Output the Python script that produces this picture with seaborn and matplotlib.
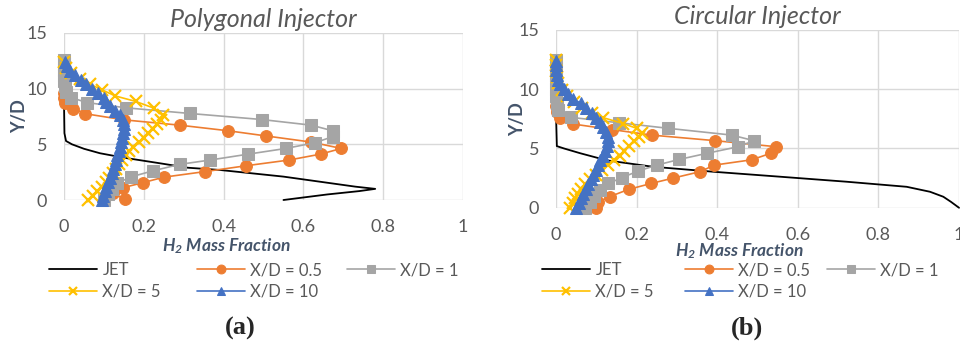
import matplotlib
matplotlib.use('Agg')
import matplotlib.pyplot as plt
import seaborn as sns

# ---- data ----
# (a) polygonal injector
poly_jet_x = [0, 0, 0.001, 0.005, 0.02, 0.05, 0.09, 0.15, 0.24, 0.31, 0.39, 0.47, 0.55, 0.61, 0.67, 0.73, 0.78, 0.74, 0.66, 0.55]
poly_jet_y = [12.5, 8.5, 6.0, 5.3, 5.0, 4.6, 4.2, 3.8, 3.3, 2.9, 2.7, 2.4, 2.1, 1.8, 1.5, 1.2, 1.0, 0.8, 0.5, 0]

poly_05_x = [0.153, 0.122, 0.147, 0.197, 0.25, 0.353, 0.457, 0.564, 0.643, 0.695, 0.62, 0.507, 0.411, 0.29, 0.15, 0.053, 0.023, 0.003, 0.001, 0]
poly_05_y = [0.06, 0.6, 1.1, 1.55, 2.05, 2.55, 3.08, 3.59, 4.12, 4.63, 5.2, 5.75, 6.22, 6.72, 7.2, 7.75, 8.2, 8.7, 9.15, 9.6]

poly_1_x = [0.1, 0.11, 0.12, 0.132, 0.169, 0.224, 0.29, 0.366, 0.462, 0.556, 0.628, 0.673, 0.674, 0.62, 0.495, 0.316, 0.155, 0.058, 0.017, 0.004, 0.002, 0.001, 0, 0, 0, 0]
poly_1_y = [0, 0.5, 1.0, 1.5, 2.09, 2.63, 3.2, 3.59, 4.12, 4.63, 5.14, 5.68, 6.21, 6.72, 7.23, 7.77, 8.28, 8.75, 9.2, 9.7, 10.2, 10.7, 11.2, 11.7, 12.2, 12.6]

poly_5_x = [0.06, 0.072, 0.083, 0.094, 0.104, 0.113, 0.122, 0.13, 0.138, 0.146, 0.155, 0.164, 0.174, 0.188, 0.2, 0.21, 0.222, 0.233, 0.242, 0.247, 0.225, 0.18, 0.128, 0.095, 0.065, 0.04, 0.018, 0.006, 0]
poly_5_y = [0, 0.4, 0.8, 1.2, 1.6, 2.0, 2.4, 2.8, 3.2, 3.6, 4.0, 4.4, 4.8, 5.2, 5.6, 6.0, 6.4, 6.8, 7.2, 7.6, 8.25, 8.85, 9.35, 9.9, 10.4, 10.9, 11.4, 11.9, 12.4]

poly_10_x = [0.094, 0.098, 0.102, 0.106, 0.11, 0.114, 0.119, 0.123, 0.127, 0.131, 0.134, 0.138, 0.141, 0.144, 0.146, 0.148, 0.15, 0.15, 0.148, 0.14, 0.128, 0.115, 0.106, 0.1, 0.085, 0.07, 0.056, 0.042, 0.028, 0.016, 0.007, 0.002]
poly_10_y = [0, 0.4, 0.8, 1.2, 1.6, 2.0, 2.4, 2.8, 3.2, 3.6, 4.0, 4.4, 4.8, 5.2, 5.6, 6.0, 6.4, 6.8, 7.2, 7.6, 8.0, 8.4, 8.8, 9.2, 9.6, 10.0, 10.4, 10.8, 11.2, 11.6, 12.0, 12.4]

# (b) circular injector
circ_jet_x = [0, 0, 0.002, 0.02, 0.06, 0.126, 0.24, 0.39, 0.556, 0.72, 0.87, 0.928, 0.961, 0.98, 1.0]
circ_jet_y = [12.5, 7.8, 5.2, 5.0, 4.6, 4.0, 3.46, 3.04, 2.62, 2.2, 1.77, 1.35, 0.93, 0.5, 0]

circ_05_x = [0.1, 0.105, 0.134, 0.18, 0.236, 0.29, 0.357, 0.393, 0.486, 0.533, 0.546, 0.395, 0.237, 0.138, 0.043, 0.01, 0.003, 0.001, 0]
circ_05_y = [0, 0.45, 0.95, 1.55, 2.05, 2.5, 3.04, 3.6, 4.05, 4.6, 5.15, 5.66, 6.13, 6.6, 7.06, 7.55, 8.1, 8.6, 9.1]

circ_1_x = [0.072, 0.085, 0.095, 0.11, 0.13, 0.164, 0.204, 0.25, 0.306, 0.374, 0.452, 0.491, 0.436, 0.279, 0.156, 0.036, 0.006, 0.002, 0.001, 0, 0, 0, 0, 0]
circ_1_y = [0, 0.5, 1.0, 1.5, 2.05, 2.55, 3.1, 3.6, 4.08, 4.59, 5.15, 5.66, 6.13, 6.7, 7.17, 7.63, 8.25, 8.8, 9.4, 10.0, 10.6, 11.2, 11.8, 12.5]

circ_5_x = [0.035, 0.042, 0.048, 0.055, 0.063, 0.072, 0.085, 0.1, 0.115, 0.13, 0.145, 0.158, 0.168, 0.18, 0.193, 0.205, 0.213, 0.2, 0.167, 0.117, 0.09, 0.065, 0.045, 0.028, 0.015, 0.006, 0.002, 0, 0, 0]
circ_5_y = [0, 0.4, 0.8, 1.2, 1.6, 2.0, 2.4, 2.8, 3.2, 3.6, 4.0, 4.4, 4.8, 5.2, 5.6, 6.0, 6.3, 6.7, 7.1, 7.6, 8.0, 8.4, 8.9, 9.4, 9.9, 10.5, 11.0, 11.5, 12.0, 12.5]

circ_10_x = [0.05, 0.056, 0.062, 0.068, 0.074, 0.08, 0.086, 0.092, 0.098, 0.104, 0.11, 0.116, 0.122, 0.127, 0.13, 0.13, 0.124, 0.117, 0.11, 0.1, 0.09, 0.075, 0.062, 0.042, 0.03, 0.02, 0.01, 0.005, 0.002, 0.001, 0, 0]
circ_10_y = [0, 0.4, 0.8, 1.2, 1.6, 2.0, 2.4, 2.8, 3.2, 3.6, 4.0, 4.4, 4.8, 5.2, 5.6, 6.0, 6.4, 6.8, 7.2, 7.6, 8.0, 8.4, 8.8, 9.2, 9.6, 10.0, 10.4, 10.8, 11.2, 11.6, 12.0, 12.4]

labels = ['JET', 'X/D = 0.5', 'X/D = 1', 'X/D = 5', 'X/D = 10']
xtick_vals = [0, 0.2, 0.4, 0.6, 0.8, 1]
xtick_labels = ['0', '0.2', '0.4', '0.6', '0.8', '1']
ytick_vals = [0, 5, 10, 15]

styles = [
    dict(color='black', marker=None, lw=1.3),
    dict(color='#ED7D31', marker='o', ms=8.5, lw=1.2),
    dict(color='#A5A5A5', marker='s', ms=8.5, lw=1.2),
    dict(color='#FFC000', marker='x', ms=8.5, mew=1.6, lw=1.2),
    dict(color='#4472C4', marker='^', ms=8, lw=1.2),
]

sns.set_style('white')
plt.rcParams['font.family'] = ['Lato', 'DejaVu Sans']
plt.rcParams['mathtext.fontset'] = 'custom'
plt.rcParams['mathtext.rm'] = 'Lato:italic:bold'
plt.rcParams['mathtext.it'] = 'Lato:italic:bold'

TXT = '#595959'
LAB = '#44546A'

fig = plt.figure(figsize=(9.6, 3.44), dpi=100)
ax1 = fig.add_axes([0.0667, 0.4186, 0.4156, 0.4855])
ax2 = fig.add_axes([0.5792, 0.396, 0.4198, 0.517])

panels = [
    (ax1, 'Polygonal Injector',
     [(poly_jet_x, poly_jet_y), (poly_05_x, poly_05_y), (poly_1_x, poly_1_y),
      (poly_5_x, poly_5_y), (poly_10_x, poly_10_y)]),
    (ax2, 'Circular Injector',
     [(circ_jet_x, circ_jet_y), (circ_05_x, circ_05_y), (circ_1_x, circ_1_y),
      (circ_5_x, circ_5_y), (circ_10_x, circ_10_y)]),
]

for ax, title, series in panels:
    for (xs, ys), lab, st in zip(series, labels, styles):
        kw = dict(color=st['color'], linewidth=st['lw'], clip_on=False)
        if st['marker']:
            kw.update(marker=st['marker'], markersize=st['ms'],
                      markeredgecolor=st['color'], markerfacecolor=st['color'])
            if 'mew' in st:
                kw['markeredgewidth'] = st['mew']
        sns.lineplot(x=xs, y=ys, sort=False, estimator=None, ax=ax, label=lab, **kw)
    ax.set_xlim(0, 1)
    ax.set_ylim(0, 15)
    ax.set_xticks(xtick_vals)
    ax.set_xticklabels(xtick_labels)
    ax.set_yticks(ytick_vals)
    ax.grid(True, color='#D9D9D9', linewidth=1)
    ax.set_axisbelow(True)
    for s in ax.spines.values():
        s.set_visible(False)
    ax.tick_params(axis='both', length=0, labelsize=13, labelcolor=TXT)
    ax.tick_params(axis='x', pad=14)
    ax.tick_params(axis='y', pad=12)
    ax.set_title(title, fontsize=18, style='italic', color=TXT, pad=4)
    ax.set_xlabel(r'H$_2$ Mass Fraction', fontsize=12.5, fontweight='bold',
                  style='italic', color=LAB)
    ax.set_ylabel('Y/D', fontsize=13, fontweight='bold', color=LAB)
    ax.get_legend().remove()

ax1.xaxis.set_label_coords(0.406, -0.215)
ax2.xaxis.set_label_coords(0.454, -0.19)
ax1.yaxis.set_label_coords(-0.09, 0.5)
ax2.yaxis.set_label_coords(-0.075, 0.5)

# legends: one per column so the columns sit where Excel puts them
columns = [[0, 3], [1, 4], [2]]
col_x = {ax1: [49, 197, 347], ax2: [542, 685, 827]}
for ax in (ax1, ax2):
    h = ax.get_lines()[:5]
    for idx, cx in zip(columns, col_x[ax]):
        fig.legend([h[i] for i in idx], [labels[i] for i in idx],
                   loc='upper left', bbox_to_anchor=(cx / 960, 1 - 262 / 344),
                   ncol=1, frameon=False, fontsize=12, labelcolor=TXT,
                   handlelength=2.9, handletextpad=0.3, labelspacing=0.35,
                   markerscale=0.75, borderpad=0, borderaxespad=0)

fig.text(0.25, 1 - 328 / 344, '(a)', ha='center', va='center', fontsize=19,
         fontweight='bold', family='Liberation Serif')
fig.text(0.778, 1 - 328 / 344, '(b)', ha='center', va='center', fontsize=19,
         fontweight='bold', family='Liberation Serif')

fig.savefig('out.png', dpi=100)
